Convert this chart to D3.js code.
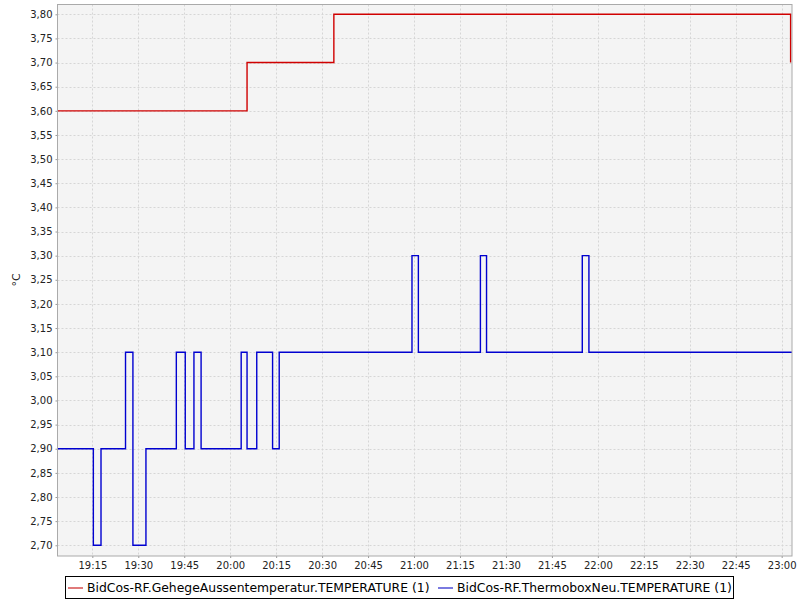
<!DOCTYPE html>
<html>
<head>
<meta charset="utf-8">
<script src="https://cdn.jsdelivr.net/npm/d3@7"></script>
<style>
  html, body { margin: 0; padding: 0; background: #ffffff; }
  svg { display: block; font-family: "DejaVu Sans", sans-serif; }
</style>
</head>
<body>
<svg id="chart" width="800" height="600"></svg>
<script>
// ---- data ----
const seriesNames = [
  "BidCos-RF.GehegeAussentemperatur.TEMPERATURE (1)",
  "BidCos-RF.ThermoboxNeu.TEMPERATURE (1)"
];
const redTimes  = ["19:03:38", "20:05:30", "20:33:50", "23:02:55"];
const redValues = [3.60, 3.70, 3.80, 3.70];

const blueTimes = ["19:03:38", "19:15:20", "19:17:50", "19:25:50", "19:28:15", "19:32:30",
                   "19:42:25", "19:45:20", "19:48:10", "19:50:30", "20:03:35", "20:05:30",
                   "20:08:40", "20:13:50", "20:16:00", "20:59:20", "21:01:25", "21:21:40",
                   "21:23:40", "21:54:55", "21:57:05", "23:03:22"];
const blueValues = [2.90, 2.70, 2.90, 3.10, 2.70, 2.90,
                    3.10, 2.90, 3.10, 2.90, 3.10, 2.90,
                    3.10, 2.90, 3.10, 3.30, 3.10, 3.30,
                    3.10, 3.30, 3.10, 3.10];

const xDomainTimes = ["19:03:38", "23:03:22"];
const yDomainValues = [2.6778, 3.8203];
const yTickValues = [2.70, 2.75, 2.80, 2.85, 2.90, 2.95, 3.00, 3.05, 3.10, 3.15, 3.20,
                     3.25, 3.30, 3.35, 3.40, 3.45, 3.50, 3.55, 3.60, 3.65, 3.70, 3.75, 3.80];
const xTickLabels = ["19:15", "19:30", "19:45", "20:00", "20:15", "20:30", "20:45", "21:00",
                     "21:15", "21:30", "21:45", "22:00", "22:15", "22:30", "22:45", "23:00"];
const yAxisLabel = "°C";

// ---- helpers ----
const parseT = s => {
  const [h, m, sec] = s.split(":").map(Number);
  return new Date(2020, 0, 1, h, m, sec || 0);
};

const svg = d3.select("#chart");
const plot = { left: 57.5, top: 4.5, right: 792, bottom: 556 };

const x = d3.scaleTime()
  .domain(xDomainTimes.map(parseT))
  .range([plot.left, plot.right]);
const y = d3.scaleLinear()
  .domain(yDomainValues)
  .range([plot.bottom, plot.top]);

// plot background
svg.append("rect")
  .attr("x", plot.left).attr("y", plot.top)
  .attr("width", plot.right - plot.left).attr("height", plot.bottom - plot.top)
  .attr("fill", "#f4f4f4");

const fmtComma = v => d3.format(".2f")(v).replace(".", ",");
const xTicks = xTickLabels.map(parseT);

// grid
const grid = svg.append("g").attr("stroke", "#d6d6d6").attr("stroke-dasharray", "2,2").attr("stroke-width", 1);
grid.selectAll("line.gy").data(yTickValues).join("line")
  .attr("x1", plot.left).attr("x2", plot.right)
  .attr("y1", d => Math.round(y(d)) + 0.5).attr("y2", d => Math.round(y(d)) + 0.5);
grid.selectAll("line.gx").data(xTicks).join("line")
  .attr("y1", plot.top).attr("y2", plot.bottom)
  .attr("x1", d => Math.round(x(d)) + 0.5).attr("x2", d => Math.round(x(d)) + 0.5);

// axes
const yAxis = d3.axisLeft(y).tickValues(yTickValues).tickFormat(fmtComma).tickSize(2).tickPadding(3);
const xAxis = d3.axisBottom(x).tickValues(xTicks).tickFormat(d3.timeFormat("%H:%M")).tickSize(2).tickPadding(4);

const gy = svg.append("g").attr("transform", `translate(${plot.left},0)`).call(yAxis);
const gx = svg.append("g").attr("transform", `translate(0,${plot.bottom})`).call(xAxis);
[gx, gy].forEach(g => {
  g.select(".domain").remove();
  g.selectAll(".tick line").attr("stroke", "#999");
  g.selectAll(".tick text").attr("fill", "#222").attr("font-size", "10px")
    .attr("font-family", "'DejaVu Sans', sans-serif");
});

// series lines
const line = d3.line().curve(d3.curveStepAfter)
  .x(d => x(d[0])).y(d => y(d[1]));
const redData = redTimes.map((t, i) => [parseT(t), redValues[i]]);
const blueData = blueTimes.map((t, i) => [parseT(t), blueValues[i]]);

const linesG = svg.append("g");
linesG.append("path").datum(redData).attr("d", line)
  .attr("fill", "none").attr("stroke", "#d00000").attr("stroke-width", 1.4);
linesG.append("path").datum(blueData).attr("d", line)
  .attr("fill", "none").attr("stroke", "#0000d0").attr("stroke-width", 1.4);

// plot border
svg.append("rect")
  .attr("x", plot.left).attr("y", plot.top)
  .attr("width", plot.right - plot.left).attr("height", plot.bottom - plot.top)
  .attr("fill", "none").attr("stroke", "#aaaaaa").attr("stroke-width", 1);

// y axis label
svg.append("text")
  .attr("transform", "translate(20,280) rotate(-90)")
  .attr("text-anchor", "middle")
  .attr("font-size", "11px").attr("fill", "#222")
  .text(yAxisLabel);

// legend
const legend = svg.append("g");
legend.append("rect")
  .attr("x", 65.5).attr("y", 576.5).attr("width", 668).attr("height", 22)
  .attr("fill", "#ffffff").attr("stroke", "#000").attr("stroke-width", 1);
const legendColors = ["#e07a7a", "#7a7ae0"];
const legendX = [68, 438];
seriesNames.forEach((name, i) => {
  legend.append("line")
    .attr("x1", legendX[i]).attr("x2", legendX[i] + 15)
    .attr("y1", 588).attr("y2", 588)
    .attr("stroke", legendColors[i]).attr("stroke-width", 2);
  legend.append("text")
    .attr("x", legendX[i] + 19).attr("y", 592)
    .attr("font-size", "12.4px").attr("fill", "#000")
    .text(name);
});
</script>
</body>
</html>
